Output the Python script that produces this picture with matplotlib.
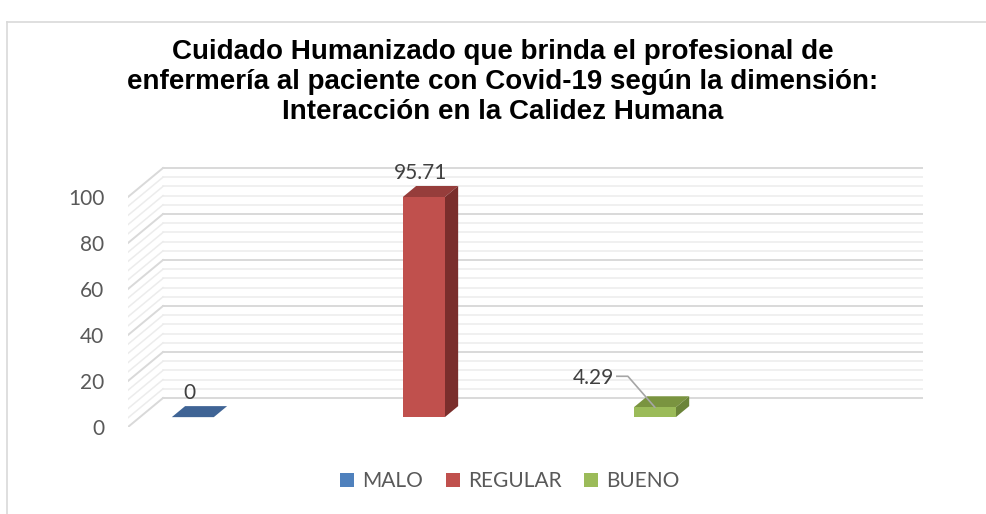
import numpy as np
import matplotlib
matplotlib.use('Agg')
import matplotlib.pyplot as plt
from matplotlib.patches import Polygon, Patch
from matplotlib.lines import Line2D
from matplotlib.transforms import IdentityTransform

categories = ['MALO', 'REGULAR', 'BUENO']
values = [0, 95.71, 4.29]
labels = ['0', '95.71', '4.29']
yticks = [0, 20, 40, 60, 80, 100]

front_colors = ['#4F81BD', '#C0504D', '#9BBB59']
side_colors = ['#2E4F78', '#7A2E2C', '#6B8439']
top_colors = ['#3F6495', '#963D3B', '#7A9440']

title = ('Cuidado Humanizado que brinda el profesional de\n'
         'enfermería al paciente con Covid-19 según la dimensión:\n'
         'Interacción en la Calidez Humana')

W, H = 987, 514
fig = plt.figure(figsize=(W / 100, H / 100), dpi=100)
plt.rcParams['font.family'] = ['Lato', 'DejaVu Sans']

# axes = front plane of the 3d box
ax = fig.add_axes([128 / W, 87 / H, (923 - 128) / W, 264.5 / H])
xl, xr = -0.229, 3.212
ax.set_xlim(xl, xr)
ax.set_ylim(0, 115)
for s in ax.spines.values():
    s.set_visible(False)
ax.set_xticks([])
ax.set_yticks(yticks)
ax.tick_params(axis='y', length=0, pad=17, labelsize=15, labelcolor='#595959')

# depth offsets in data units (oblique projection)
DX = 35 / 231
DY = 29 / 2.3


def P(x, y, d):
    return (x + DX * d, y + DY * d)


# gridlines on back wall and side wall
for v in range(0, 101, 4):
    major = v % 20 == 0
    col = '#D9D9D9' if major else '#ECECEC'
    lw = 1.4 if major else 1.1
    ax.plot([xl + DX, xr], [v + DY, v + DY], color=col, lw=lw, zorder=1)
    ax.plot([xl, xl + DX], [v, v + DY], color=col, lw=lw, zorder=1)

# 3d bars
bw = 42 / 231
d0, d1 = 0.34, 0.72
for i, h in enumerate(values):
    a, b = i - bw / 2, i + bw / 2
    top = [P(a, h, d0), P(b, h, d0), P(b, h, d1), P(a, h, d1)]
    side = [P(b, 0, d0), P(b, 0, d1), P(b, h, d1), P(b, h, d0)]
    front = [P(a, 0, d0), P(b, 0, d0), P(b, h, d0), P(a, h, d0)]
    ax.add_patch(Polygon(top, closed=True, fc=top_colors[i], ec='none', zorder=3))
    if h > 0:
        ax.add_patch(Polygon(side, closed=True, fc=side_colors[i], ec='none', zorder=3))
        ax.add_patch(Polygon(front, closed=True, fc=front_colors[i], ec='none', zorder=4))

# data labels
for i in (0, 1):
    ax.annotate(labels[i], xy=P(i, values[i], d0), xytext=(-3, 24), textcoords='offset pixels',
                ha='center', va='center', fontsize=15, color='#404040', zorder=6)

fig.canvas.draw()
anchor = ax.transData.transform(P(2, values[2], d0))
leader = anchor + np.array([[-38, 31], [-27, 31], [0, 0]])
ax.plot(leader[:, 0], leader[:, 1], color='#A6A6A6', lw=1.2, transform=IdentityTransform(), zorder=5)
ax.annotate(labels[2], xy=P(2, values[2], d0), xytext=(-41, 29), textcoords='offset pixels',
            ha='right', va='center', fontsize=15, color='#404040', zorder=6)

# title
fig.text(503 / W, 1 - 82 / H, title, ha='center', va='center', fontsize=20,
         fontweight='bold', family=['Liberation Sans', 'DejaVu Sans'], linespacing=1.2, color='black')

# legend
handles = [Patch(fc=c, ec='none') for c in front_colors]
fig.legend(handles, categories, loc='center', bbox_to_anchor=(510 / W, 33 / H), ncol=3,
           frameon=False, fontsize=15, labelcolor='#595959', handlelength=0.65, handleheight=0.65,
           handletextpad=0.4, columnspacing=1.1)

# chart frame
fig.add_artist(Line2D([7 / W, 7 / W], [0, 1 - 22 / H], color='#D9D9D9', lw=1.2))
fig.add_artist(Line2D([7 / W, 1], [1 - 22 / H, 1 - 22 / H], color='#D9D9D9', lw=1.2))

fig.savefig('out.png', dpi=100)
